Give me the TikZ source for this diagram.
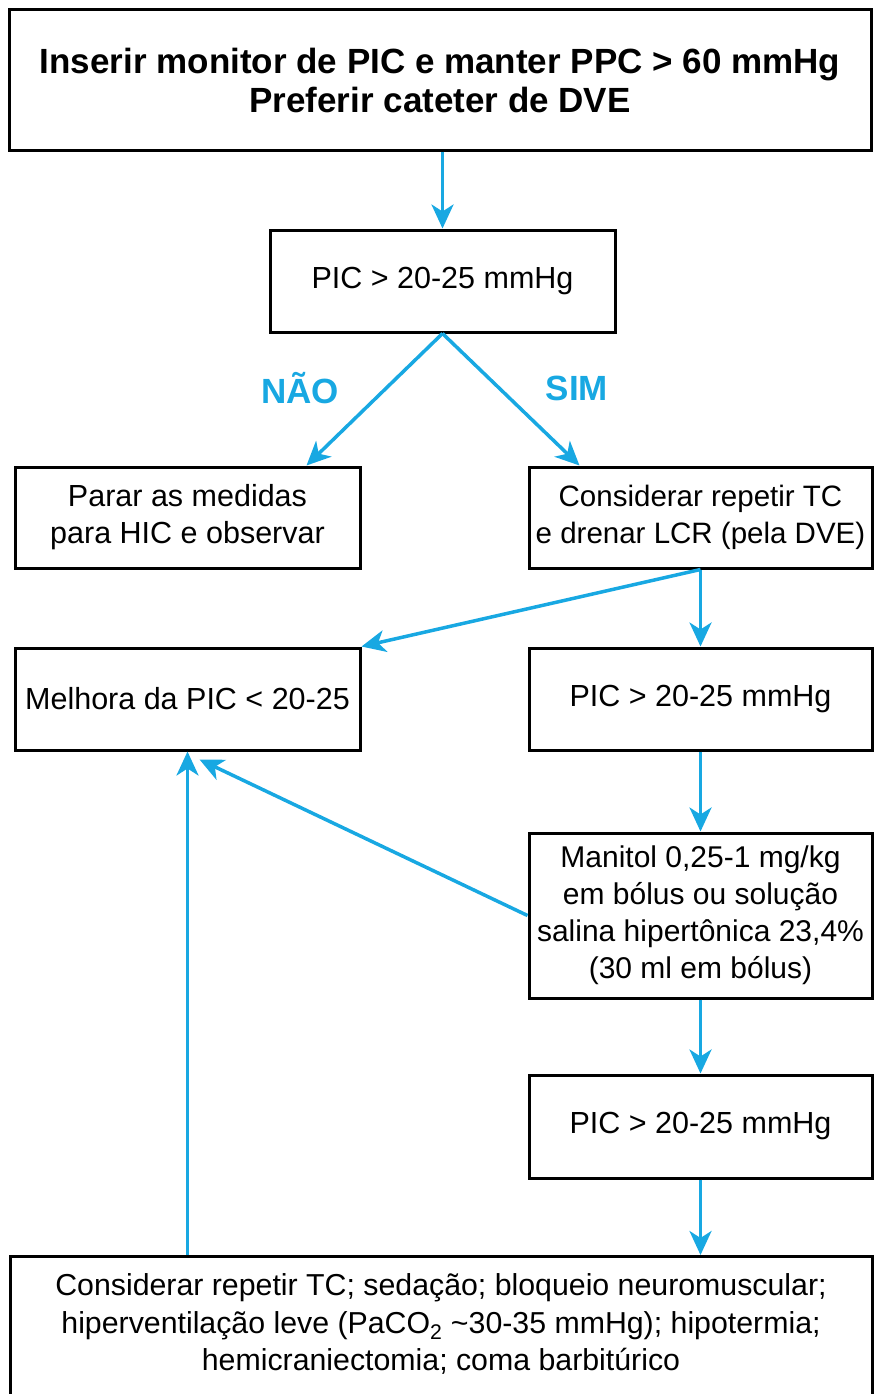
\documentclass[tikz,border=0pt]{standalone}
\usepackage{fontspec}
\setmainfont{Liberation Sans}
\usetikzlibrary{arrows.meta,calc}
\definecolor{flowblue}{RGB}{24,168,226}
\begin{document}
\begin{tikzpicture}[x=1pt,y=-1pt,
  box/.style={draw=black,line width=3pt,fill=white,inner sep=0pt,align=center,
    font=\fontsize{30.5pt}{37pt}\selectfont},
  arr/.style={draw=flowblue,line width=3.5pt,-{Stealth[length=24pt,width=22pt,inset=7pt]}},
  lbl/.style={text=flowblue,font=\fontsize{35pt}{40pt}\selectfont\bfseries}]
\useasboundingbox (0,0) rectangle (873,1394);
\node[box,minimum width=862pt,minimum height=140pt,font=\fontsize{35pt}{39pt}\selectfont\bfseries] (b1) at (440,80)
  {Inserir monitor de PIC e manter PPC > 60 mmHg\\Preferir cateter de DVE};
\node[box,minimum width=345pt,minimum height=102pt] (b2) at (442.5,281) {PIC > 20-25 mmHg};
\node[box,minimum width=345pt,minimum height=101pt] (b3) at (187.5,517.5) {Parar as medidas\\para HIC e observar};
\node[box,minimum width=343pt,minimum height=101pt,font=\fontsize{29.5pt}{37pt}\selectfont] (b4) at (700.5,517.5) {Considerar repetir TC\\e drenar LCR (pela DVE)};
\node[box,minimum width=345pt,minimum height=102pt] (b5) at (187.5,699) {Melhora da PIC < 20-25};
\node[box,minimum width=343pt,minimum height=102pt] (b6) at (700.5,699) {PIC > 20-25 mmHg};
\node[box,minimum width=343pt,minimum height=165pt,font=\fontsize{30pt}{37pt}\selectfont] (b7) at (700.5,915.5) {Manitol 0,25-1 mg/kg\\em bólus ou solução\\salina hipertônica 23,4\%\\(30 ml em bólus)};
\node[box,minimum width=343pt,minimum height=103pt] (b8) at (700.5,1126.5) {PIC > 20-25 mmHg};
\node[box,minimum width=862pt,minimum height=150pt,anchor=north] (b9) at (441,1255) {};
\node[align=center,inner sep=0pt,font=\fontsize{30.3pt}{37.5pt}\selectfont] (t9) at (441,1324)
  {Considerar repetir TC; sedação; bloqueio neuromuscular;\\hiperventilação leve (PaCO\textsubscript{2} \textasciitilde30-35 mmHg); hipotermia;\\hemicraniectomia; coma barbitúrico};
\draw[arr] (b1.south -| b2.north) -- (b2.north);
\draw[arr] (b2.south) -- ($(b3.north east)+(-55,0)$);
\draw[arr] (b2.south) -- ($(b4.north west)+(52,0)$);
\node[lbl] (no) at (300,388) {NÃO};
\node[lbl] (yes) at (577,388) {SIM};
\draw[arr] (b4.south) -- (b5.north east);
\draw[arr] (b4.south) -- (b6.north);
\draw[arr] (b6.south) -- (b7.north);
\draw[arr] (b7.west) -- ($(b5.south)+(12,8)$);
\draw[arr] (b7.south) -- (b8.north);
\draw[arr] (b8.south) -- (b9.north -| b8.south);
\draw[arr] (b9.north -| b5.south) -- (b5.south);
\end{tikzpicture}
\end{document}
